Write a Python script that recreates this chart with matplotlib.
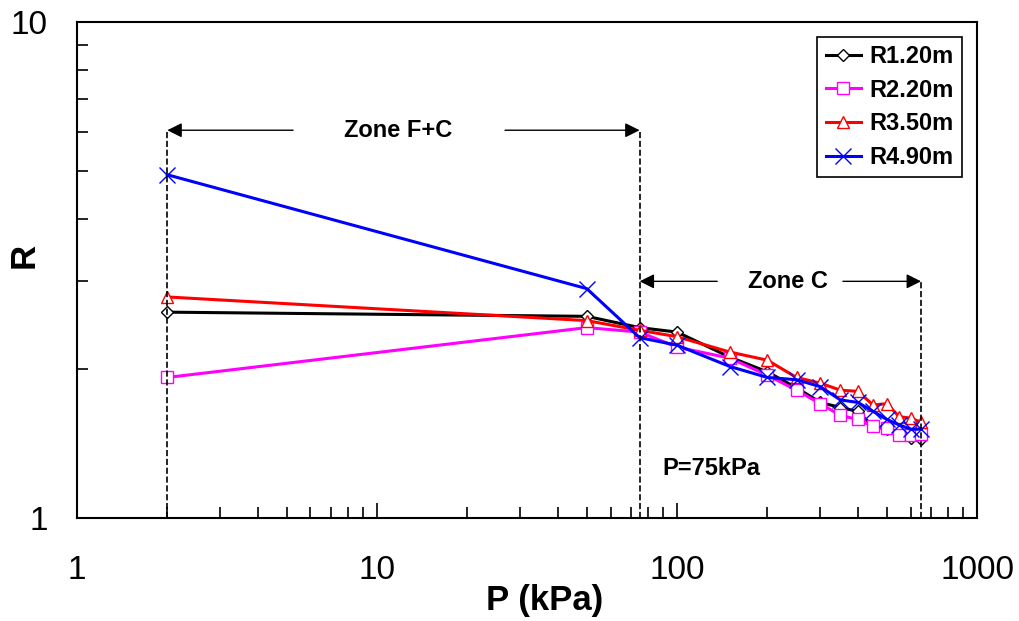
import matplotlib
matplotlib.use("Agg")
import matplotlib.pyplot as plt
from matplotlib.ticker import LogLocator, NullFormatter, FixedLocator, FixedFormatter

plt.rcParams['font.family'] = ['Liberation Sans', 'DejaVu Sans']

# presion (kPa) y razones R
p_kpa = [2, 50, 75, 100, 150, 200, 250, 300, 350, 400, 450, 500, 550, 600, 650]
r_120 = [2.60, 2.55, 2.42, 2.37, 2.11, 1.97, 1.83, 1.71, 1.67, 1.64, 1.53, 1.51, 1.47, 1.45, 1.44]
r_220 = [1.92, 2.42, 2.37, 2.21, 2.10, 1.94, 1.81, 1.70, 1.61, 1.58, 1.53, 1.52, 1.47, 1.47, 1.48]
r_350 = [2.79, 2.50, 2.39, 2.32, 2.16, 2.08, 1.92, 1.87, 1.81, 1.80, 1.69, 1.70, 1.60, 1.59, 1.56]
r_490 = [4.92, 2.90, 2.31, 2.23, 2.02, 1.92, 1.90, 1.84, 1.73, 1.71, 1.64, 1.58, 1.54, 1.51, 1.51]

series = [
    ("R1.20m", r_120, "black", "D", 6),
    ("R2.20m", r_220, "magenta", "s", 8),
    ("R3.50m", r_350, "red", "^", 9),
    ("R4.90m", r_490, "blue", "x", 11),
]

fig = plt.figure(figsize=(10.2, 6.21), dpi=100)
ax = fig.add_axes([0.0755, 0.1659, 0.8825, 0.7987])

for name, vals, col, mk, ms in series:
    ax.plot(p_kpa, vals, color=col, lw=2.2, marker=mk, ms=ms, mfc="white",
            mec=col, mew=1.0, label=name)

ax.set_xscale("log")
ax.set_yscale("log")
ax.set_xlim(1, 1000)
ax.set_ylim(1, 10)

ax.xaxis.set_major_locator(FixedLocator([1, 10, 100, 1000]))
ax.xaxis.set_major_formatter(FixedFormatter(["1", "10", "100", "1000"]))
ax.xaxis.set_minor_locator(LogLocator(base=10, subs=range(2, 10)))
ax.xaxis.set_minor_formatter(NullFormatter())
ax.yaxis.set_major_locator(FixedLocator([1, 10]))
ax.yaxis.set_major_formatter(FixedFormatter(["1", "10"]))
ax.yaxis.set_minor_locator(LogLocator(base=10, subs=range(2, 10)))
ax.yaxis.set_minor_formatter(NullFormatter())

ax.tick_params(which="both", direction="in", top=False, right=False, width=1.2)
ax.tick_params(which="major", length=11, labelsize=24)
ax.tick_params(which="minor", length=8)
ax.tick_params(axis="x", which="major", pad=27)
ax.tick_params(axis="y", which="major", pad=21)
for s in ax.spines.values():
    s.set_linewidth(1.5)

fig.text(0.534, 0.033, "P (kPa)", fontsize=25, fontweight="bold", ha="center", va="center")
fig.text(0.024, 0.589, "R", fontsize=25, fontweight="bold", ha="center", va="center", rotation=90)

# lineas de zona
ax.plot([2, 2], [1, 6.05], color="black", ls="--", lw=1.2)
ax.plot([75, 75], [1, 6.05], color="black", ls="--", lw=1.2)
ax.plot([650, 650], [1, 3.0], color="black", ls="--", lw=1.2)

arrow = dict(arrowstyle="-|>", color="black", lw=1.0, mutation_scale=22, shrinkA=0, shrinkB=0)
ax.annotate("", xy=(2, 6.05), xytext=(5.25, 6.05), arrowprops=arrow)
ax.annotate("", xy=(75, 6.05), xytext=(26.7, 6.05), arrowprops=arrow)
ax.annotate("", xy=(75, 3.0), xytext=(136, 3.0), arrowprops=arrow)
ax.annotate("", xy=(650, 3.0), xytext=(357, 3.0), arrowprops=arrow)

ax.text(11.75, 6.05, "Zone F+C", fontsize=17, fontweight="bold", ha="center", va="center")
ax.text(234, 3.0, "Zone C", fontsize=17, fontweight="bold", ha="center", va="center")
ax.text(89, 1.26, "P=75kPa", fontsize=17, fontweight="bold", ha="left", va="center")

leg = ax.legend(loc="upper right", bbox_to_anchor=(0.983, 0.97), fancybox=False,
                edgecolor="black", framealpha=1, prop={"size": 17, "weight": "bold"},
                handlelength=1.5, borderpad=0.35, labelspacing=0.45, handletextpad=0.35,
                borderaxespad=0.0)
leg.get_frame().set_linewidth(1.2)

fig.savefig("out.png", dpi=100)
